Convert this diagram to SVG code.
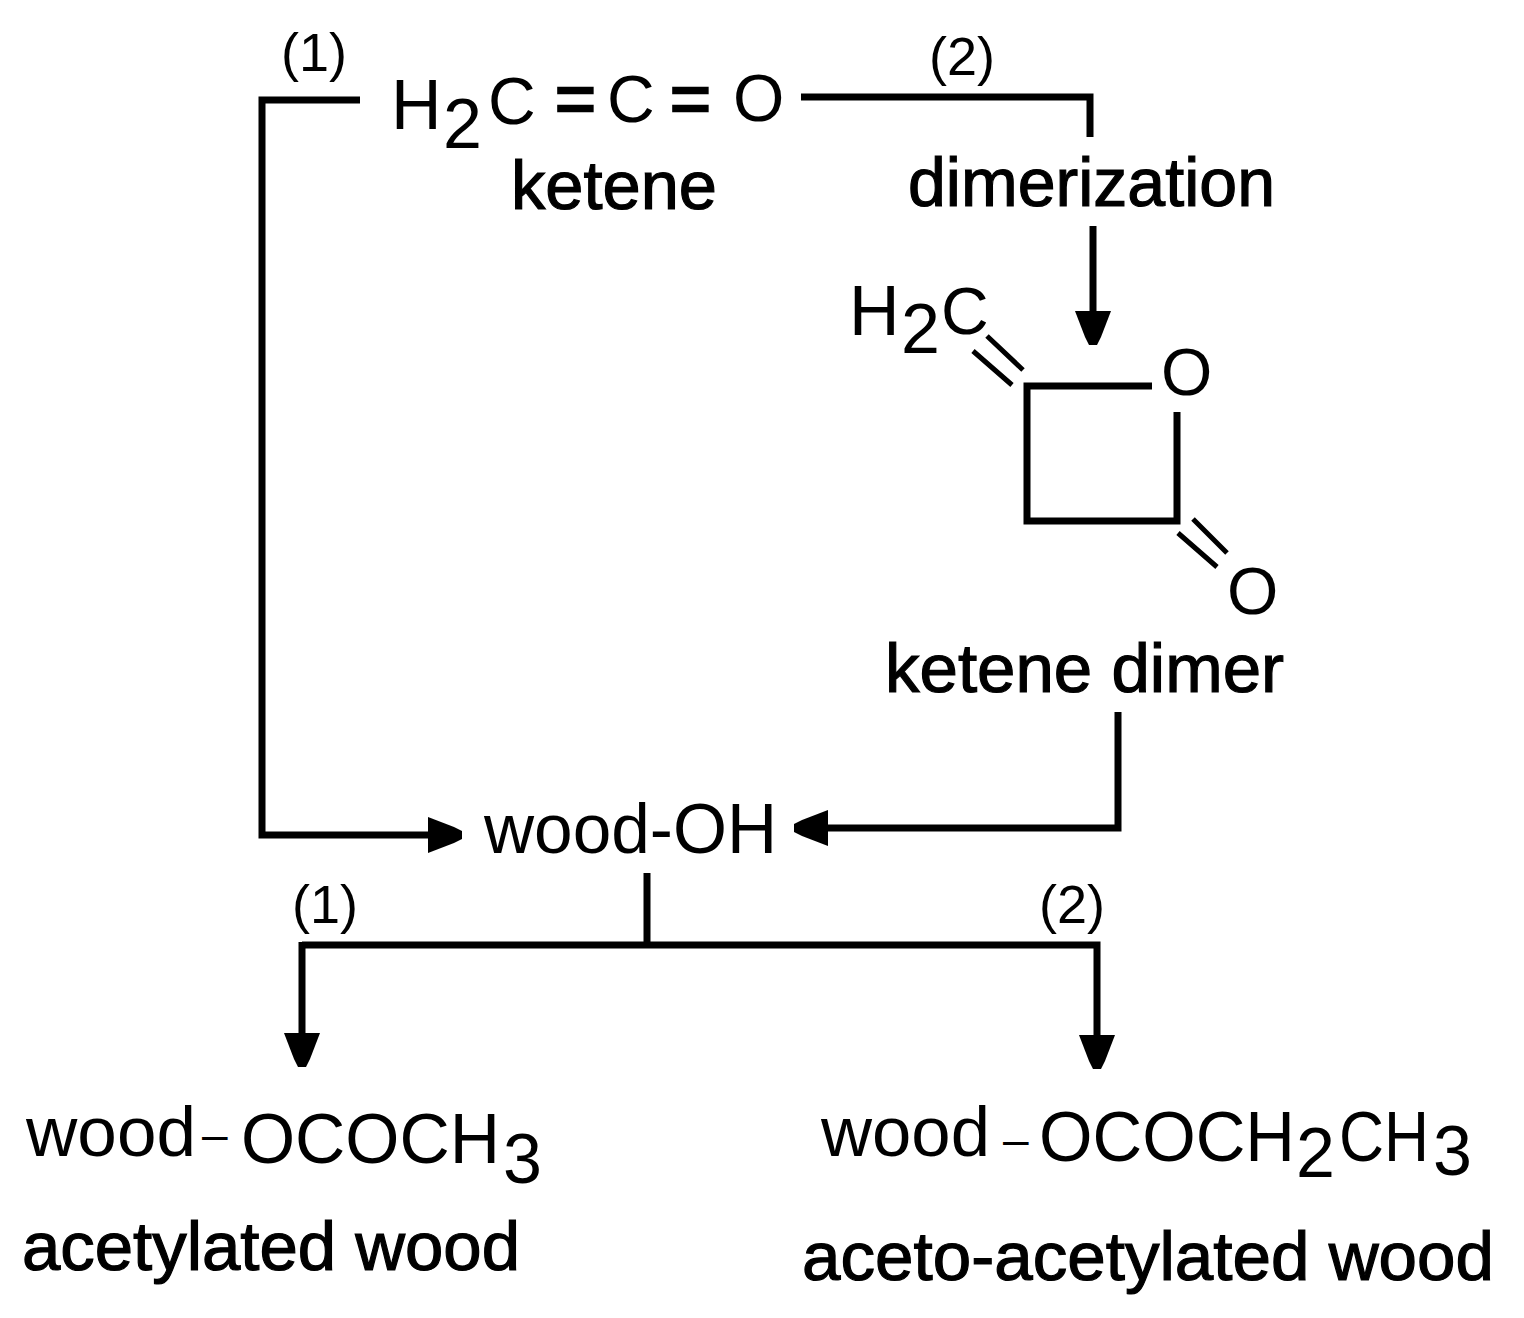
<svg xmlns="http://www.w3.org/2000/svg" width="1524" height="1318" viewBox="0 0 1524 1318">
<style>
text{font-family:"Liberation Sans",Arial,sans-serif;fill:#000}
.f{font-size:70px}
.o{font-size:66px}
.b{font-size:69px;stroke:#000;stroke-width:1.2px}
.e{font-size:70px;stroke:#000;stroke-width:2.5px}
.d{font-size:46px}
.n{font-size:54px}
.l{fill:none;stroke:#000;stroke-width:7}
.t{fill:none;stroke:#000;stroke-width:5}
</style>
<defs>
<marker id="a" markerUnits="userSpaceOnUse" markerWidth="36" markerHeight="40" viewBox="0 -20 36 40" refX="34" refY="0" orient="auto"><path d="M0 -18L26 -8L34 -4V4L26 8L0 18Z" fill="#000"/></marker>
</defs>
<rect width="1524" height="1318" fill="#fff"/>
<g id="connectors">
<path class="l" d="M360 100H262V835H462" marker-end="url(#a)"/>
<path class="l" d="M801 97H1090V137"/>
<path class="l" d="M1093 226V345" marker-end="url(#a)"/>
<path class="l" d="M1118 712V828H794" marker-end="url(#a)"/>
<path class="l" d="M647 873V945"/>
<path class="l" d="M302 945H1097V1069" marker-end="url(#a)"/>
<path class="l" d="M302 942V1067" marker-end="url(#a)"/>
</g>
<g id="ketene">
<text x="391" y="129" class="f">H</text><text x="443" y="148" class="f">2</text><text x="488" y="124" class="o">C</text>
<text x="555" y="123" class="e">=</text><text x="607" y="122" class="o">C</text><text x="670" y="123" class="e">=</text><text x="733" y="121" class="o">O</text>
<text x="511" y="209" class="b" textLength="206" lengthAdjust="spacingAndGlyphs">ketene</text>
</g>
<g id="label-1-top"><text x="281" y="71" class="n">(1)</text></g>
<g id="label-2-top"><text x="929" y="75" class="n">(2)</text></g>
<g id="dimerization"><text x="908" y="206" class="b" textLength="367" lengthAdjust="spacingAndGlyphs">dimerization</text></g>
<g id="ketene-dimer">
<text x="849" y="335" class="f">H</text><text x="901" y="353" class="f">2</text><text x="941" y="334" class="o">C</text>
<text x="1161" y="395" class="o">O</text><text x="1227" y="614" class="o">O</text>
<path class="l" d="M1152 386H1027V521H1177V412"/>
<path class="t" d="M987 336L1023 370M973 351L1012 385M1193 519L1227 553M1178 533L1217 567"/>
<text x="885" y="692" class="b" textLength="399" lengthAdjust="spacingAndGlyphs">ketene dimer</text>
</g>
<g id="wood-oh"><text x="484" y="853" class="f" textLength="293" lengthAdjust="spacingAndGlyphs">wood-OH</text></g>
<g id="label-1-bottom"><text x="292" y="923" class="n">(1)</text></g>
<g id="label-2-bottom"><text x="1039" y="923" class="n">(2)</text></g>
<g id="acetylated">
<text x="26" y="1156" class="f" textLength="170" lengthAdjust="spacingAndGlyphs">wood</text><text x="202" y="1150" class="d">–</text><text x="241" y="1163" class="f" textLength="259" lengthAdjust="spacingAndGlyphs">OCOCH</text><text x="503" y="1183" class="f">3</text>
<text x="22" y="1270" class="b" textLength="498" lengthAdjust="spacingAndGlyphs">acetylated wood</text>
</g>
<g id="aceto-acetylated">
<text x="821" y="1156" class="f" textLength="169" lengthAdjust="spacingAndGlyphs">wood</text><text x="1003" y="1155" class="d">–</text><text x="1039" y="1161" class="f" textLength="256" lengthAdjust="spacingAndGlyphs">OCOCH</text><text x="1296" y="1177" class="f">2</text><text transform="translate(1339 1161) scale(.89 1)" class="f">CH</text><text x="1433" y="1175" class="f">3</text>
<text x="802" y="1280" class="b" textLength="692" lengthAdjust="spacingAndGlyphs">aceto-acetylated wood</text>
</g>
</svg>
